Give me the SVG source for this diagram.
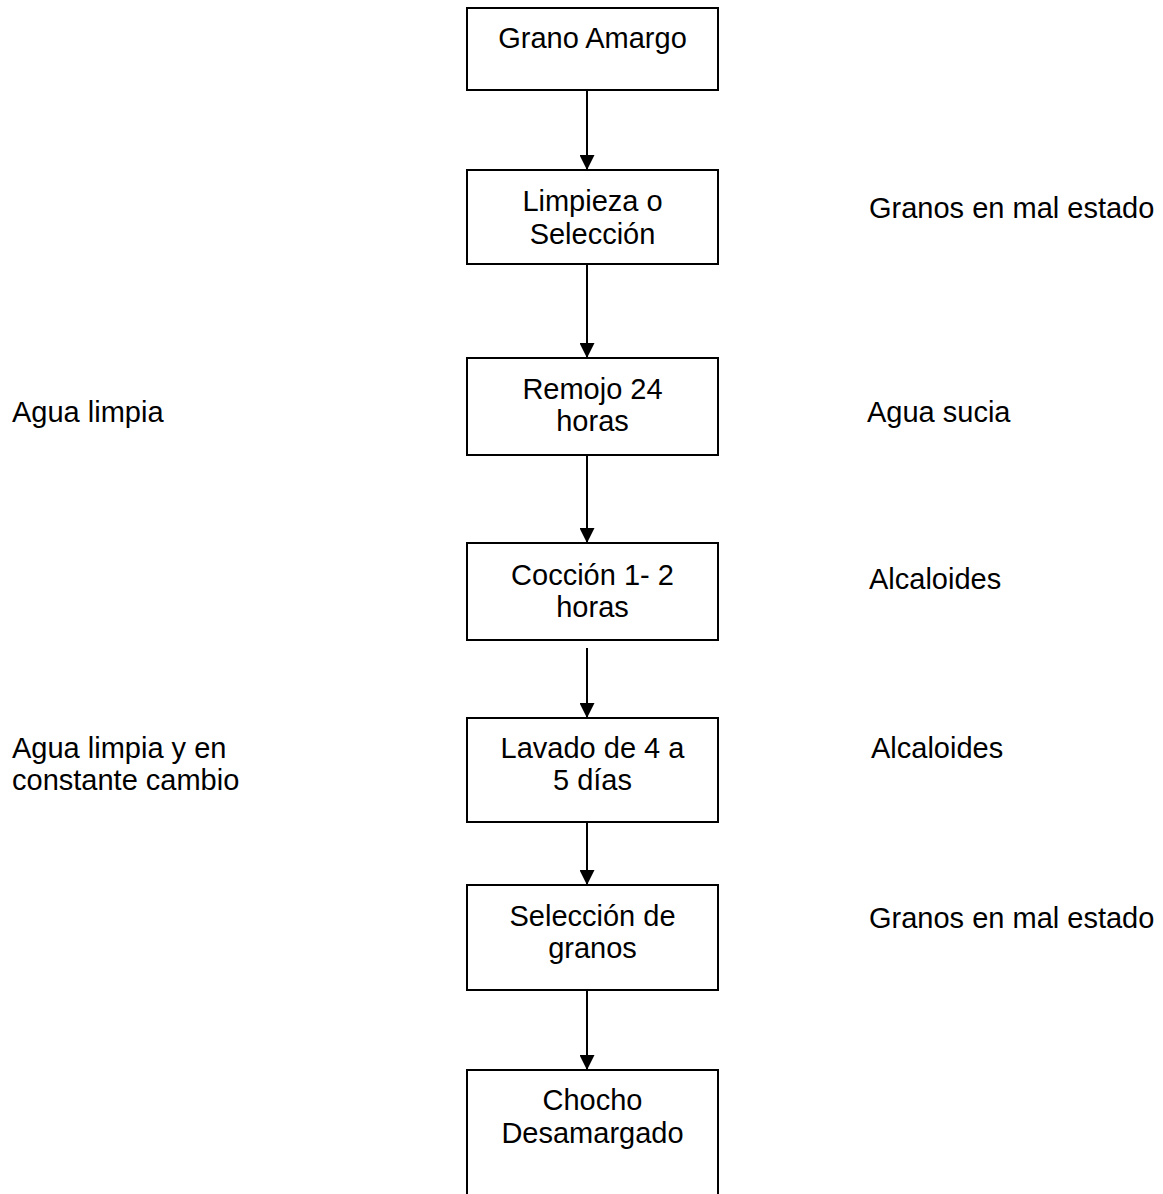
<svg xmlns="http://www.w3.org/2000/svg" width="1163" height="1194" viewBox="0 0 1163 1194">
<defs>
<style>
.box{fill:#fff;stroke:#000;stroke-width:2}
.t{font-family:"Liberation Sans",Arial,sans-serif;font-size:29px;fill:#000}
.c{text-anchor:middle}
.ln{stroke:#000;stroke-width:2;fill:none}
</style>
<marker id="ah" markerWidth="15" markerHeight="15" viewBox="0 0 15 15" refX="15" refY="7.5" orient="auto" markerUnits="userSpaceOnUse">
<path d="M0,0 L15,7.5 L0,15 Z" fill="#000"/>
</marker>
</defs>
<rect width="1163" height="1194" fill="#fff"/>
<g id="connectors">
<line class="ln" x1="587" y1="90" x2="587" y2="170" marker-end="url(#ah)"/>
<line class="ln" x1="587" y1="264" x2="587" y2="358" marker-end="url(#ah)"/>
<line class="ln" x1="587" y1="455" x2="587" y2="543" marker-end="url(#ah)"/>
<line class="ln" x1="587" y1="648" x2="587" y2="718" marker-end="url(#ah)"/>
<line class="ln" x1="587" y1="822" x2="587" y2="885" marker-end="url(#ah)"/>
<line class="ln" x1="587" y1="990" x2="587" y2="1070" marker-end="url(#ah)"/>
</g>
<g id="n1"><rect class="box" x="467" y="8" width="251" height="82"/><text class="t c" x="592.5" y="48">Grano Amargo</text></g>
<g id="n2"><rect class="box" x="467" y="170" width="251" height="94"/><text class="t c" x="592.5" y="211">Limpieza o</text><text class="t c" x="592.5" y="244">Selección</text></g>
<g id="n3"><rect class="box" x="467" y="358" width="251" height="97"/><text class="t c" x="592.5" y="399">Remojo 24</text><text class="t c" x="592.5" y="431">horas</text></g>
<g id="n4"><rect class="box" x="467" y="543" width="251" height="97"/><text class="t c" x="592.5" y="585">Cocción 1- 2</text><text class="t c" x="592.5" y="617">horas</text></g>
<g id="n5"><rect class="box" x="467" y="718" width="251" height="104"/><text class="t c" x="592.5" y="758">Lavado de 4 a</text><text class="t c" x="592.5" y="790">5 días</text></g>
<g id="n6"><rect class="box" x="467" y="885" width="251" height="105"/><text class="t c" x="592.5" y="926">Selección de</text><text class="t c" x="592.5" y="958">granos</text></g>
<g id="n7"><rect class="box" x="467" y="1070" width="251" height="140"/><text class="t c" x="592.5" y="1110">Chocho</text><text class="t c" x="592.5" y="1143">Desamargado</text></g>
<g id="labels">
<text class="t" x="869" y="218">Granos en mal estado</text>
<text class="t" x="12" y="422">Agua limpia</text>
<text class="t" x="867" y="422">Agua sucia</text>
<text class="t" x="869" y="589">Alcaloides</text>
<text class="t" x="12" y="758">Agua limpia y en</text>
<text class="t" x="12" y="790">constante cambio</text>
<text class="t" x="871" y="758">Alcaloides</text>
<text class="t" x="869" y="928">Granos en mal estado</text>
</g>
</svg>
